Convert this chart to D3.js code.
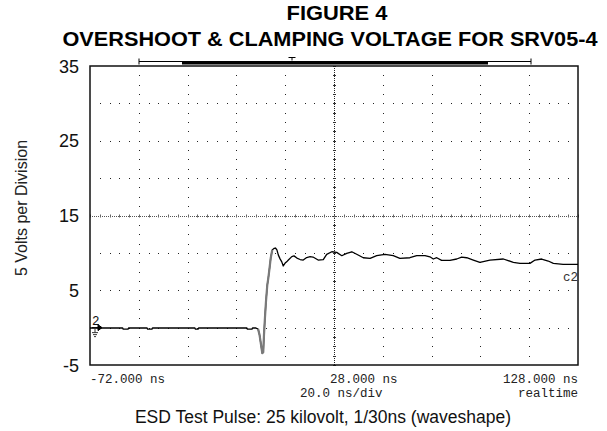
<!DOCTYPE html>
<html><head><meta charset="utf-8">
<script src="https://cdn.jsdelivr.net/npm/d3@7"></script>
<style>html,body{margin:0;padding:0;background:#fff;}svg{display:block;}</style>
</head><body>
<script>
// ---- data ----
const titleLines = ["FIGURE 4", "OVERSHOOT & CLAMPING VOLTAGE FOR SRV05-4"];
const yTickValues = [35, 25, 15, 5, -5];
const xTickLabels = ["-72.000 ns", "28.000 ns", "128.000 ns"];
const xTickValues = [-72, 28, 128];
const yAxisTitle = "5 Volts per Division";
const xAxisTitle = "ESD Test Pulse:  25 kilovolt, 1/30ns (waveshape)";
const timebase = "20.0 ns/div";
const modeLabel = "realtime";
const channelLabel = "c2";
// waveform: time (ns) and voltage (V)
const traceTime = [-72,-58.6,-58.4,-56.4,-56.2,-48.6,-48.4,-46.6,-46.4,-29.0,-28.8,-27.7,-27.5,-7.7,-7.5,-5.6,-5.4,-4.0,-3.1,-2.5,-1.9,-1.4,-1.0,-0.7,-0.3,0.1,0.66,1.07,1.6,2.06,2.7,3.4,4.0,4.6,5.2,5.9,6.6,7.2,7.9,8.6,9.3,10.7,11.6,12.8,14.1,15.4,16.8,18.2,19.4,21.5,23.6,25.0,27.1,29.1,31.2,33.2,35.3,37.3,40.0,42.8,45.5,48.9,52.3,55.0,59.1,61.9,65.3,67.3,68.7,70.1,72.1,75.5,78.3,80.3,82.4,85.1,87.8,91.9,97.4,101.5,104.2,108.3,110.4,113.1,115.8,117.9,121.9,124.7,128];
const traceVolt = [-0.05,-0.05,-0.2,-0.2,-0.05,-0.05,-0.2,-0.2,-0.05,-0.05,-0.2,-0.2,-0.05,-0.05,-0.2,-0.2,-0.05,-0.05,-0.2,-1.0,-2.3,-3.4,-3.3,-1.0,1.3,3.4,5.7,6.6,8.0,9.3,10.4,10.6,10.65,10.4,9.7,9.2,8.8,8.25,8.6,8.8,9.05,9.5,9.6,9.3,9.11,9.04,9.38,9.49,9.44,9.04,9.11,9.81,10.15,10.07,9.62,9.94,10.15,9.81,9.35,9.27,9.62,9.81,9.62,9.27,9.35,9.62,9.62,9.48,9.18,9.35,9.0,9.0,9.18,9.44,9.35,9.04,8.74,9.04,9.18,8.74,8.6,8.6,9.04,9.18,8.91,8.6,8.47,8.47,8.47];
const edgeStart = -3.1, edgeEnd = 2.7;

// ---- drawing ----
const W = 607, H = 431;
const svg = d3.select("body").append("svg").attr("width", W).attr("height", H);
const x = d3.scaleLinear().domain([-72, 128]).range([90, 578]);
const y = d3.scaleLinear().domain([-5, 35]).range([365, 66]);

// titles
svg.append("text").attr("x", 337).attr("y", 20).attr("text-anchor", "middle")
  .attr("font-family", "Liberation Sans, Arial, sans-serif").attr("font-weight", "bold")
  .attr("font-size", 21).attr("textLength", 101).attr("lengthAdjust", "spacingAndGlyphs").text(titleLines[0]);
svg.append("text").attr("x", 330).attr("y", 45.5).attr("text-anchor", "middle")
  .attr("font-family", "Liberation Sans, Arial, sans-serif").attr("font-weight", "bold")
  .attr("font-size", 21).attr("textLength", 535).attr("lengthAdjust", "spacingAndGlyphs").text(titleLines[1]);

// record bar above frame
const barY = 61.5;
svg.append("line").attr("x1", 139).attr("x2", 531).attr("y1", barY).attr("y2", barY).attr("stroke", "#000").attr("stroke-width", 1);
svg.append("line").attr("x1", 139).attr("x2", 139).attr("y1", barY - 3).attr("y2", barY + 3).attr("stroke", "#000");
svg.append("line").attr("x1", 531).attr("x2", 531).attr("y1", barY - 3).attr("y2", barY + 3).attr("stroke", "#000");
svg.append("rect").attr("x", 182).attr("y", barY - 0.5).attr("width", 306).attr("height", 3.5).attr("fill", "#000");
svg.append("path").attr("d", `M288.5,${barY-4}h7M292,${barY-4}v3`).attr("stroke", "#000").attr("fill", "none");

// grid
const g = svg.append("g");
const majorV = d3.range(-72 + 20, 128, 20); // vertical division lines
const majorH = d3.range(0, 35, 5);          // horizontal division lines
const minorT = d3.range(-72, 128.01, 4);
const minorV = d3.range(-5, 35.01, 1.25);
majorV.forEach(t => {
  if (t === 28) return;
  minorV.forEach(v => { if (v > -5 && v < 35) g.append("rect").attr("x", Math.round(x(t))).attr("y", Math.round(y(v))).attr("width", 1).attr("height", 1).attr("fill", "#222"); });
});
majorH.forEach(v => {
  if (v === 15) return;
  minorT.forEach(t => { if (t > -72 && t < 128) g.append("rect").attr("x", Math.round(x(t))).attr("y", Math.round(y(v))).attr("width", 1).attr("height", 1).attr("fill", "#222"); });
});
// center lines
g.append("line").attr("x1", Math.round(x(28)) + 0.5).attr("x2", Math.round(x(28)) + 0.5).attr("y1", 66).attr("y2", 365)
  .attr("stroke", "#222").attr("stroke-dasharray", "1,1");
g.append("line").attr("y1", Math.round(y(15)) + 0.5).attr("y2", Math.round(y(15)) + 0.5).attr("x1", 90).attr("x2", 578)
  .attr("stroke", "#555").attr("stroke-dasharray", "1,1");
minorV.forEach(v => g.append("line").attr("x1", x(28) - 1).attr("x2", x(28) + 2).attr("y1", Math.round(y(v)) + 0.5).attr("y2", Math.round(y(v)) + 0.5).attr("stroke", "#333"));
minorT.forEach(t => g.append("line").attr("y1", y(15) - 1).attr("y2", y(15) + 2).attr("x1", Math.round(x(t)) + 0.5).attr("x2", Math.round(x(t)) + 0.5).attr("stroke", "#666"));

// frame
svg.append("rect").attr("x", 90).attr("y", 66).attr("width", 488).attr("height", 299)
  .attr("fill", "none").attr("stroke", "#111").attr("stroke-width", 1.5);

// trace
const pts = traceTime.map((t, i) => [t, traceVolt[i]]);
const line = d3.line().x(d => x(d[0])).y(d => y(d[1]));
svg.append("path").datum(pts).attr("d", line).attr("fill", "none").attr("stroke", "#000").attr("stroke-width", 1.3).attr("stroke-linejoin", "round");
svg.append("path").datum(pts.filter(d => d[0] >= edgeStart && d[0] <= edgeEnd)).attr("d", line)
  .attr("fill", "none").attr("stroke", "#7a7a7a").attr("stroke-width", 2.2).attr("stroke-linejoin", "round");

// channel marker (ground ref)
const gy = y(0);
svg.append("text").attr("x", 92).attr("y", gy - 3).attr("font-family", "Liberation Mono, monospace").attr("font-size", 12.5).attr("fill", "#111").text("2");
svg.append("path").attr("d", `M92,${gy}h6M98,${gy-3}l4,3l-4,3z`).attr("stroke", "#000").attr("fill", "#000");
svg.append("path").attr("d", `M95,${gy}v5M92,${gy+5}h6M93,${gy+7}h4M94,${gy+9}h2`).attr("stroke", "#333").attr("fill", "none");

svg.append("text").attr("x", 563).attr("y", 281).attr("font-family", "Liberation Mono, monospace").attr("font-size", 12.5).attr("fill", "#333").text(channelLabel);

// y axis labels
svg.append("g").selectAll("text").data(yTickValues).join("text")
  .attr("x", 79).attr("y", d => y(d) + 6.5).attr("text-anchor", "end")
  .attr("font-family", "Liberation Sans, Arial, sans-serif").attr("font-size", 18).attr("fill", "#111").text(d => d);
svg.append("text").attr("transform", "translate(27,208) rotate(-90)").attr("text-anchor", "middle")
  .attr("font-family", "Liberation Sans, Arial, sans-serif").attr("font-size", 16).attr("fill", "#222").text(yAxisTitle);

// x axis labels
const anchors = ["start", "start", "end"];
const xOff = [0, -4, 0];
svg.append("g").selectAll("text").data(xTickValues).join("text")
  .attr("x", (d, i) => x(d) + xOff[i]).attr("y", 383).attr("text-anchor", (d, i) => anchors[i])
  .attr("font-family", "Liberation Mono, monospace").attr("font-size", 12.5).attr("fill", "#222").text((d, i) => xTickLabels[i]);
svg.append("text").attr("x", 300).attr("y", 397).attr("font-family", "Liberation Mono, monospace").attr("font-size", 12.5).attr("fill", "#222").text(timebase);
svg.append("text").attr("x", 578).attr("y", 397).attr("text-anchor", "end").attr("font-family", "Liberation Mono, monospace").attr("font-size", 12.5).attr("fill", "#222").text(modeLabel);
svg.append("text").attr("x", 323).attr("y", 423).attr("text-anchor", "middle")
  .attr("font-family", "Liberation Sans, Arial, sans-serif").attr("font-size", 17.5).attr("fill", "#111").text(xAxisTitle);
</script>
</body></html>
